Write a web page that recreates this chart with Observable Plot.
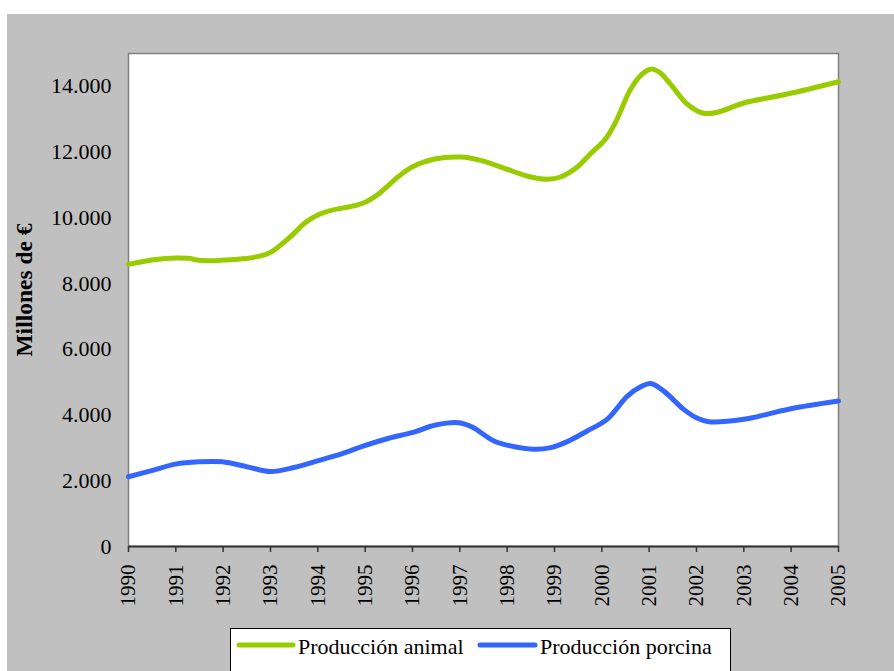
<!DOCTYPE html>
<html>
<head>
<meta charset="utf-8">
<script src="https://cdn.jsdelivr.net/npm/d3@7"></script>
<script src="https://cdn.jsdelivr.net/npm/@observablehq/plot@0.6"></script>
<style>
  html, body { margin: 0; padding: 0; background: #ffffff; }
  body { width: 894px; height: 671px; overflow: hidden; position: relative; font-family: "Liberation Serif", "Times New Roman", serif; }
  #panel { position: absolute; left: 7px; top: 14px; width: 887px; height: 657px; background: #c0c0c0; overflow: hidden; }
  #chart { position: absolute; left: 0; top: 0; }
  #legend { position: absolute; left: 223px; top: 614px; }
</style>
</head>
<body>
<div id="panel">
  <div id="chart"></div>
  <div id="legend"></div>
</div>
<script>
// ---- data ----
const seriesNames = ["Producción animal", "Producción porcina"];
const seriesColors = ["#99cc00", "#3366ff"];
const yTicks = [0, 2000, 4000, 6000, 8000, 10000, 12000, 14000];
const xTicks = [1990,1991,1992,1993,1994,1995,1996,1997,1998,1999,2000,2001,2002,2003,2004,2005];

const animalYears = [1990.0, 1990.53, 1991.03, 1991.27, 1991.49, 1991.94, 1992.37, 1992.72, 1993.0, 1993.42, 1993.74, 1994.02, 1994.30, 1994.73, 1995.01, 1995.29, 1995.71, 1995.99, 1996.49, 1997.02, 1997.44, 1997.93, 1998.42, 1998.85, 1999.13, 1999.48, 1999.76, 2000.08, 2000.29, 2000.61, 2000.85, 2001.03, 2001.20, 2001.45, 2001.80, 2002.15, 2002.44, 2003.0, 2003.92, 2005.0];
const animalValues = [8585, 8727, 8779, 8767, 8706, 8706, 8748, 8818, 8948, 9424, 9858, 10100, 10233, 10355, 10485, 10736, 11264, 11545, 11797, 11848, 11748, 11515, 11273, 11173, 11242, 11545, 11948, 12403, 12909, 13918, 14373, 14524, 14445, 14070, 13464, 13182, 13212, 13494, 13767, 14142];

const porcinaYears = [1990.0, 1990.53, 1990.99, 1991.49, 1991.98, 1992.51, 1993.0, 1993.49, 1993.99, 1994.48, 1994.97, 1995.50, 1995.99, 1996.49, 1996.98, 1997.26, 1997.72, 1998.07, 1998.56, 1998.92, 1999.27, 1999.69, 2000.11, 2000.54, 2000.82, 2001.03, 2001.31, 2001.73, 2002.02, 2002.26, 2003.0, 2003.49, 2003.99, 2005.0];
const porcinaValues = [2121, 2324, 2506, 2576, 2576, 2424, 2282, 2403, 2606, 2809, 3061, 3294, 3464, 3697, 3767, 3636, 3212, 3061, 2960, 3010, 3191, 3515, 3869, 4576, 4858, 4960, 4727, 4172, 3899, 3797, 3869, 4021, 4191, 4424];

const animal = animalYears.map((t, i) => ({t, v: animalValues[i]}));
const porcina = porcinaYears.map((t, i) => ({t, v: porcinaValues[i]}));

const fmt = d => d3.format(",")(d).replace(/,/g, ".");
const FONT = '"Liberation Serif", "Times New Roman", serif';

const plot = Plot.plot({
  width: 887,
  height: 612,
  marginLeft: 121,
  marginRight: 56,
  marginTop: 39,
  marginBottom: 80,
  style: { background: "transparent", fontFamily: FONT, fontSize: "22px", color: "#000" },
  x: { domain: [1990, 2005], label: null },
  y: { domain: [0, 15000], label: null },
  marks: [
    Plot.frame({ fill: "white", stroke: "#808080", strokeWidth: 1.5 }),
    Plot.axisY({ ticks: yTicks, tickFormat: fmt, tickSize: 0, tickPadding: 17, fontSize: 22, fill: "#000" }),
    Plot.axisX({ ticks: xTicks, tickFormat: "d", tickSize: 6, tickPadding: 12, tickRotate: -90, fontSize: 21, stroke: "#333", fill: "#000", strokeWidth: 1.5 }),
    Plot.ruleY([0], { stroke: "#333", strokeWidth: 2 }),
    Plot.line(animal, { x: "t", y: "v", stroke: seriesColors[0], strokeWidth: 5, curve: "catmull-rom", strokeLinecap: "round", strokeLinejoin: "round" }),
    Plot.line(porcina, { x: "t", y: "v", stroke: seriesColors[1], strokeWidth: 5, curve: "catmull-rom", strokeLinecap: "round", strokeLinejoin: "round" }),
    Plot.text(["Millones de €"], { frameAnchor: "left", textAnchor: "middle", dx: -104, dy: -10, rotate: -90, fontWeight: "bold", fontSize: 23.5, fill: "#000" })
  ]
});
document.getElementById("chart").appendChild(plot);

// ---- legend ----
const lg = d3.select("#legend").append("svg")
  .attr("width", 501).attr("height", 50)
  .style("display", "block");
lg.append("rect").attr("x", 0.5).attr("y", 0.5).attr("width", 500).attr("height", 60)
  .attr("fill", "white").attr("stroke", "#000").attr("stroke-width", 1);
const items = [
  { x1: 9, x2: 63, tx: 68 },
  { x1: 250, x2: 305, tx: 310 }
];
items.forEach((it, i) => {
  lg.append("line").attr("x1", it.x1).attr("x2", it.x2).attr("y1", 17).attr("y2", 17)
    .attr("stroke", seriesColors[i]).attr("stroke-width", 5).attr("stroke-linecap", "round");
  lg.append("text").attr("x", it.tx).attr("y", 26).text(seriesNames[i])
    .style("font-family", FONT).style("font-size", "22px").attr("fill", "#000");
});
</script>
</body>
</html>
